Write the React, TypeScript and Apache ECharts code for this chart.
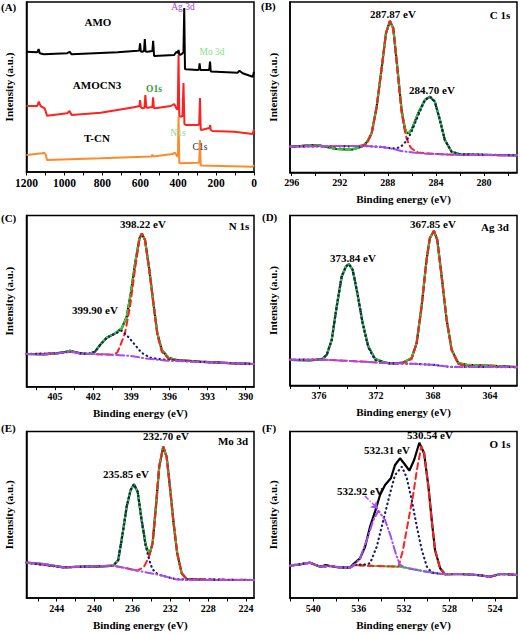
import React, { useEffect, useRef } from "react";
import * as echarts from "echarts";

type P = [number, number][];

// ---------- Panel A: survey spectra (binding energy eV, intensity a.u.) ----------
const surveyAMO: P = [
  [1200, 120.3], [1143, 119.7], [1136, 123], [1130, 118.7], [1109, 117.7], [985, 118.7], [973, 120.3], [962, 117.7],
  [720, 119.7], [615, 121.3], [605, 121.5], [601, 128.7], [597, 120.5], [590, 120.3], [580, 121], [576, 133], [572, 120.5],
  [562, 120.3], [536, 121], [532, 131.3], [527, 116], [421, 117], [409, 120.3], [402, 119], [398, 122], [394, 117],
  [380, 118], [372, 120], [368, 164], [364, 103], [358, 102.7], [298, 102], [290, 102.5], [287, 108.7], [283, 102],
  [241, 102], [236, 102.5], [232, 110.3], [228, 100.5], [86, 99.3], [77, 101.3], [60, 98.7], [7, 95.3], [0, 100.3],
];
const surveyAMOCN3: P = [
  [1200, 66], [1143, 66], [1135, 70.3], [1126, 66], [1104, 63.7], [1092, 56.3], [985, 58.7], [973, 61], [962, 57],
  [809, 59.3], [633, 64.7], [604, 66], [601, 72], [597, 65], [590, 63.7], [578, 64], [573, 77], [568, 64.5], [562, 64.3],
  [536, 65], [532, 74.7], [528, 64], [521, 63.7], [439, 66], [421, 68], [407, 62.7], [402, 63], [398, 117], [394, 56],
  [389, 55.3], [377, 56], [372, 89], [367, 48], [360, 47], [298, 47], [289, 47.5], [285, 74], [281, 42.5], [278, 42],
  [241, 43.7], [234, 44], [231, 47], [228, 42], [220, 41], [104, 40.3], [7, 38], [0, 42.7],
];
const surveyTCN: P = [
  [1200, 17], [1118, 18.7], [1106, 19.3], [1098, 17], [1092, 12], [809, 13.7], [540, 15.5], [536, 17.5], [532, 15.5],
  [430, 18], [416, 19.3], [404, 15.3], [401, 16], [398, 55], [394, 9], [389, 8.7], [298, 9.3], [289, 9.5], [285, 32],
  [281, 6.5], [278, 6.3], [7, 5.3], [0, 7],
];

// ---------- Panel B: C 1s ----------
const c1sRaw: P = [
  [296.14, 25.8], [295.3, 26.5], [294.5, 27.3], [293.6, 26.8], [292.9, 25], [292.3, 23.5], [291.5, 23], [290.9, 23.2],
  [290.4, 25], [290.05, 26.8], [289.7, 31], [289.35, 39.2], [288.93, 65.8], [288.5, 105.8], [288.16, 139.2],
  [287.83, 151.5], [287.55, 144.2], [287.22, 105.8], [286.86, 62.5], [286.6, 45], [286.44, 39.2], [286.2, 40],
  [286.03, 42.5], [285.48, 59.2], [284.92, 72.5], [284.5, 75.8], [284.09, 70.8], [283.67, 52.5], [283.26, 32.5],
  [282.7, 20.8], [282.0, 18.2], [279.24, 17.5], [277.26, 17.2],
];
const c1sBackground: P = [
  [296.14, 26], [293, 26.5], [290.5, 26.5], [289.5, 26.3], [288.5, 25.5], [287.5, 23.5], [286.9, 21.5], [285.5, 19.5],
  [284.8, 18.8], [283, 18], [282, 17.6], [279, 17.4], [277.26, 17.2],
];
const c1sPeak28787: P = [
  [296.14, 26], [290.5, 26.5], [289.8, 28], [289.35, 39], [288.93, 65.8], [288.5, 105.8], [288.16, 139.2], [287.83, 151.5],
  [287.55, 144.2], [287.22, 104], [286.86, 60], [286.6, 42], [286.44, 34], [286.2, 27], [286.03, 24], [285.5, 20],
  [284, 18.5], [282, 17.6], [277.26, 17.2],
];
const c1sPeak28470: P = [
  [296.14, 26], [289.5, 26.3], [288.5, 25.5], [287.6, 24], [287.2, 24.5], [286.86, 26.5], [286.5, 31], [286.1, 39],
  [285.48, 57], [284.92, 72.5], [284.5, 75.8], [284.09, 70.8], [283.67, 52.5], [283.26, 32.5], [282.7, 20.8],
  [282.0, 18.2], [277.26, 17.2],
];

// ---------- Panel C: N 1s ----------
const n1sRaw: P = [
  [407.24, 32.7], [405.9, 32.3], [404.9, 33.3], [404.3, 34.5], [403.82, 36], [403.03, 33.3], [402.38, 32.7], [401.85, 35],
  [401.46, 41.7], [400.93, 49], [400.28, 53.3], [399.75, 58.3], [399.36, 70], [399.04, 93.3], [398.7, 123.3],
  [398.36, 148.3], [398.17, 153.3], [397.92, 146.7], [397.58, 116.7], [397.26, 83.3], [396.95, 53.3], [396.6, 36.7],
  [396.08, 29], [395.42, 26.7], [393.6, 25], [390.96, 23.3], [389.35, 22.7],
];
const n1sBackground: P = [
  [407.24, 32.7], [405.9, 32.3], [404.9, 33.3], [403.82, 35], [403.03, 33.3], [402.38, 32.7], [401.5, 32.5], [400.4, 32],
  [399, 30.7], [397.9, 28.3], [396.2, 26], [393.6, 24.7], [389.35, 22.7],
];
const n1sPeak39822: P = [
  [407.24, 32.7], [404.9, 33.3], [403.82, 35], [402.38, 32.7], [400.4, 32], [400.1, 34.3], [399.9, 40], [399.5, 53.3],
  [399.1, 80], [398.7, 118], [398.36, 147], [398.17, 153.3], [397.92, 146.7], [397.58, 116.7], [397.26, 83.3],
  [396.95, 52], [396.6, 35], [396.08, 28], [395.42, 26.5], [393.6, 25], [389.35, 22.7],
];
const n1sPeak39990: P = [
  [407.24, 32.7], [404.9, 33.3], [403.82, 35], [402.38, 32.7], [401.85, 35], [401.46, 41.7], [400.93, 49], [400.28, 53],
  [399.75, 56], [399.2, 49.3], [398.7, 41.7], [398.2, 34], [397.5, 29], [396.6, 27.3], [395.42, 26.2], [393.6, 24.7],
  [389.35, 22.7],
];

// ---------- Panel D: Ag 3d ----------
const ag3dRaw: P = [
  [378.04, 25.7], [376.64, 25], [375.81, 26.3], [375.46, 30.7], [375.11, 45.7], [374.76, 79], [374.41, 109], [374.11, 119],
  [373.9, 121.4], [373.64, 115.7], [373.31, 92.4], [372.94, 62.4], [372.54, 39], [372.07, 26.7], [371.49, 23.4],
  [370.9, 21.7], [370.09, 23], [369.5, 27.4], [369.15, 42.4], [368.8, 79], [368.45, 125.7], [368.22, 147.4],
  [367.93, 154.7], [367.7, 145.7], [367.39, 109], [367.04, 65.7], [366.69, 35.7], [366.23, 22.4], [365.64, 20.7],
  [363.77, 19.7], [362.1, 18.4],
];
const ag3dBackground: P = [
  [378.04, 25.7], [375.5, 25.7], [373.1, 24], [371.2, 22.4], [369.4, 21.7], [368, 20.7], [366.8, 18.6], [362.1, 18.4],
];
const ag3dPeak36785: P = [
  [378.04, 25.7], [375.5, 25.7], [373.1, 24], [371.2, 22.4], [370.09, 22.5], [369.5, 26.5], [369.15, 42], [368.8, 79],
  [368.45, 125.7], [368.22, 147.4], [367.93, 154.7], [367.7, 145.7], [367.39, 109], [367.04, 65.7], [366.69, 35.7],
  [366.23, 21.5], [365.64, 19.5], [362.1, 18.4],
];
const ag3dPeak37384: P = [
  [378.04, 25.7], [375.81, 26], [375.46, 30.7], [375.11, 45.7], [374.76, 79], [374.41, 109], [374.11, 119], [373.9, 121.4],
  [373.64, 115.7], [373.31, 92.4], [372.94, 62.4], [372.54, 38], [372.07, 25.5], [371.49, 22.6], [370.9, 22.2],
  [369.4, 21.7], [368, 20.7], [366.8, 18.6], [362.1, 18.4],
];

// ---------- Panel E: Mo 3d ----------
const mo3dRaw: P = [
  [247.19, 35.3], [245.4, 34], [243.3, 30.7], [241.2, 31.3], [239.43, 31.3], [238.02, 32.3], [237.5, 38], [237.03, 64.7],
  [236.61, 91.3], [236.19, 108], [235.84, 113.7], [235.45, 106.3], [235.03, 78], [234.6, 53], [234.22, 43],
  [233.87, 54.7], [233.52, 91.3], [233.17, 131.3], [232.75, 151.3], [232.39, 141.3], [232.04, 111.3], [231.69, 78],
  [231.27, 44.7], [230.8, 24.7], [230.27, 19], [228.16, 18], [223.16, 18],
];
const mo3dBackground: P = [
  [247.19, 35.3], [245.4, 34], [243.3, 30.7], [241.2, 31.3], [238.02, 32.3], [236.6, 29.7], [234.9, 26.3], [233.1, 23],
  [231.4, 18.7], [230.3, 18], [223.16, 18],
];
const mo3dPeak23270: P = [
  [247.19, 35.3], [243.3, 30.7], [238.02, 32.3], [236.6, 29.7], [235.5, 27.3], [234.8, 31], [234.3, 40], [233.87, 54.7],
  [233.52, 91.3], [233.17, 131.3], [232.75, 151.3], [232.39, 141.3], [232.04, 111.3], [231.69, 78], [231.27, 44.7],
  [230.8, 24.7], [230.27, 19], [223.16, 18],
];
const mo3dPeak23585: P = [
  [247.19, 35.3], [243.3, 30.7], [238.02, 32.3], [237.5, 38], [237.03, 64.7], [236.61, 91.3], [236.19, 108],
  [235.84, 113.7], [235.45, 106.3], [235.03, 78], [234.6, 52], [234.22, 38], [233.9, 29], [233.5, 25], [233.1, 23],
  [231.4, 18.7], [223.16, 18],
];

// ---------- Panel F: O 1s ----------
const o1sRaw: P = [
  [542.05, 32.3], [541.2, 33.5], [540.28, 35.3], [539.8, 33], [539.4, 31.3], [538.9, 33], [538.52, 32], [538.1, 31.2],
  [537.64, 30.7], [536.76, 30.3], [536.47, 34], [535.88, 39.7], [535.44, 51.3], [535.0, 71.3], [534.56, 86.3],
  [534.12, 103], [533.68, 113], [533.17, 119.7], [532.8, 133], [532.36, 139.7], [531.9, 133], [531.54, 127.3],
  [531.12, 138], [530.66, 155.3], [530.24, 144.7], [529.86, 111.3], [529.57, 78], [529.28, 48], [528.83, 29.7],
  [528.4, 23.7], [527.07, 24], [525.6, 23], [524.43, 21.3], [523.55, 24], [522.96, 24], [522.06, 23],
];
const o1sBackground: P = [
  [542.05, 32.3], [540.28, 35.3], [539.4, 31.3], [538.52, 32], [537.64, 30.7], [536.76, 30.3], [536.47, 33], [534.5, 32],
  [532.4, 31.3], [530, 26.3], [528.7, 24], [527.07, 24], [525.6, 23], [524.43, 21.3], [523.55, 24], [522.06, 23],
];
const o1sPeak53054: P = [
  [542.05, 32.3], [540.28, 35.3], [539.4, 31.3], [538.52, 32], [537.64, 30.7], [536.76, 30.3], [536.47, 33], [534.5, 32],
  [532.5, 31.3], [532.1, 48], [531.62, 78], [531.23, 101.3], [530.88, 128], [530.6, 144.7], [530.5, 152],
  [530.24, 144.7], [529.86, 111.3], [529.57, 78], [529.28, 48], [528.83, 29.7], [528.4, 23.7], [527.07, 24], [525.6, 23],
  [524.43, 21.3], [523.55, 24], [522.06, 23],
];
const o1sPeak53231: P = [
  [542.05, 32.3], [540.28, 35.3], [539.4, 31.3], [538.52, 32], [537.64, 30.7], [536.76, 30.3], [536.47, 33], [535.5, 33.5],
  [535.0, 34.7], [534.41, 51.3], [533.83, 78], [533.24, 104.7], [532.8, 123], [532.2, 131.3], [531.77, 120.3],
  [531.33, 98], [530.88, 71.3], [530.44, 48], [530.0, 31.3], [529.57, 25.3], [528.7, 24], [527.07, 24], [525.6, 23],
  [524.43, 21.3], [523.55, 24], [522.06, 23],
];
const o1sPeak53292: P = [
  [542.05, 32.3], [540.28, 35.3], [539.4, 31.3], [538.52, 32], [537.64, 30.7], [536.76, 30.3], [536.47, 32], [535.88, 39.7],
  [535.29, 58], [534.7, 78], [534.27, 87.3], [533.68, 78], [533.17, 61.3], [532.7, 43], [532.36, 33], [531.77, 30],
  [530, 26.3], [528.7, 24], [527.07, 24], [525.6, 23], [524.43, 21.3], [523.55, 24], [522.06, 23],
];
const o1sArrow: P = [[535.45, 102], [534.3, 89]];

// ---------- axis ranges / ticks ----------
const xRanges: [number, number][] = [[0, 1200], [277.26, 296.14], [389.35, 407.24], [362.1, 378.04], [223.16, 247.19], [522.06, 542.05]];
const tickSteps = [100, 2, 1.5, 2, 2, 2];
const labelSteps = [200, 4, 3, 4, 4, 4];
const yMax = [170, 170.5, 171.2, 170, 166.5, 166.5];

const FONT = '"Liberation Serif", "Times New Roman", serif';
const BLACK = "#000000";
const GREEN = "#2fd12f";
const RED = "#ff2020";
const NAVY = "#1c1c6b";
const PURPLE = "#a64cf0";
const ORANGE = "#ff8a2a";

const grids = [
  { left: 26.5, top: 2, width: 227.5, height: 170 },
  { left: 290, top: 2, width: 227, height: 170.5 },
  { left: 26.5, top: 215.5, width: 227.5, height: 171.2 },
  { left: 290, top: 215.5, width: 227, height: 170 },
  { left: 26.5, top: 431.5, width: 227.5, height: 166.5 },
  { left: 290, top: 431.5, width: 227, height: 166.5 },
];

const labelFmt = (step: number) => (v: number) => {
  const r = v / step;
  return Math.abs(r - Math.round(r)) < 1e-6 ? String(Math.round(v)) : "";
};

type Txt = [string, number, number, string?, string?, string?];
const texts: Txt[] = [
  ["(A)", 1, 7, "left"], ["AMO", 98, 22], ["AMOCN3", 97, 85], ["T-CN", 97, 138],
  ["Ag 3d", 183, 7, "center", "#a040e0", "normal 9.5px"], ["Mo 3d", 212, 52, "center", "#7fe27f", "normal 9.5px"],
  ["O1s", 154, 89, "center", "#2e9e2e", "bold 9.5px"], ["N1s", 178, 133, "center", "#7fe27f", "normal 9.5px"],
  ["C1s", 200, 147, "center", "#1e1e50", "normal 9.5px"],
  ["(B)", 261, 6, "left"], ["287.87 eV", 393, 14], ["284.70 eV", 432, 90], ["C 1s", 500, 15],
  ["(C)", 1, 218, "left"], ["398.22 eV", 143, 224], ["399.90 eV", 95, 310], ["N 1s", 239, 226],
  ["(D)", 262, 217, "left"], ["367.85 eV", 433, 224], ["373.84 eV", 353, 258], ["Ag 3d", 495, 227],
  ["(E)", 1, 428, "left"], ["232.70 eV", 166, 436], ["235.85 eV", 126, 474], ["Mo 3d", 233, 441],
  ["(F)", 262, 428, "left"], ["530.54 eV", 430, 435], ["532.31 eV", 387, 450], ["532.92 eV", 360, 491], ["O 1s", 500, 444],
];

function line(idx: number, data: P, color: string, width: number, type: any, z: number, extra: any = {}) {
  return {
    type: "line",
    xAxisIndex: idx,
    yAxisIndex: idx,
    data,
    symbol: "none",
    showSymbol: false,
    silent: true,
    z,
    lineStyle: { color, width, type, cap: Array.isArray(type) ? "round" : "butt" },
    ...extra,
  };
}

const DASH = [5, 3];
const RDASH = [6, 4];
const DOT = [0.5, 4];
const DASHDOT = [8, 3, 1, 3];

export default function App() {
  const ref = useRef<HTMLDivElement>(null);
  useEffect(() => {
    document.body.style.margin = "0";
    if (!ref.current) return;
    const chart = echarts.init(ref.current, undefined, { renderer: "svg" });

    const xAxis = grids.map((_, i) => ({
      type: "value",
      gridIndex: i,
      inverse: true,
      min: xRanges[i][0],
      max: xRanges[i][1],
      ...(i === 0 ? { interval: tickSteps[i] } : { minInterval: tickSteps[i], maxInterval: tickSteps[i] }),
      axisLine: { onZero: false, lineStyle: { color: BLACK, width: 1.5 } },
      axisTick: { show: true, length: 3.5, lineStyle: { color: BLACK, width: 1 } },
      splitLine: { show: false },
      axisLabel: {
        formatter: labelFmt(labelSteps[i]),
        color: BLACK, fontSize: i === 0 ? 11.5 : 10, fontWeight: "bold", fontFamily: FONT, margin: 5,
        showMinLabel: i === 0, showMaxLabel: i === 0,
      },
      name: i === 0 ? "" : "Binding energy (eV)",
      nameLocation: "middle",
      nameGap: 21,
      nameTextStyle: { color: BLACK, fontSize: 11, fontWeight: "bold", fontFamily: FONT },
    }));

    const yAxis = grids.map((_, i) => ({
      type: "value",
      gridIndex: i,
      min: 0,
      max: yMax[i],
      axisLine: { show: true, onZero: false, lineStyle: { color: BLACK, width: 1.5 } },
      axisTick: { show: false },
      axisLabel: { show: false },
      splitLine: { show: false },
      name: "Intensity (a.u.)",
      nameLocation: "middle",
      nameGap: 12,
      nameTextStyle: { color: BLACK, fontSize: 11, fontWeight: "bold", fontFamily: FONT },
    }));

    const series: any[] = [
      line(0, surveyAMO, BLACK, 2, "solid", 3),
      line(0, surveyAMOCN3, RED, 2, "solid", 3),
      line(0, surveyTCN, ORANGE, 2, "solid", 3),

      line(1, c1sRaw, BLACK, 2.2, "solid", 2),
      line(1, c1sRaw, GREEN, 2.2, DASH, 3),
      line(1, c1sPeak28787, RED, 2, RDASH, 4),
      line(1, c1sPeak28470, NAVY, 2.2, DOT, 5),
      line(1, c1sBackground, PURPLE, 2, DASHDOT, 6),

      line(2, n1sRaw, BLACK, 2.2, "solid", 2),
      line(2, n1sRaw, GREEN, 2.2, DASH, 3),
      line(2, n1sPeak39822, RED, 2, RDASH, 4),
      line(2, n1sPeak39990, NAVY, 2.2, DOT, 5),
      line(2, n1sBackground, PURPLE, 2, DASHDOT, 6),

      line(3, ag3dRaw, BLACK, 2.2, "solid", 2),
      line(3, ag3dRaw, GREEN, 2.2, DASH, 3),
      line(3, ag3dPeak36785, RED, 2, RDASH, 4),
      line(3, ag3dPeak37384, NAVY, 2.2, DOT, 5),
      line(3, ag3dBackground, PURPLE, 2, DASHDOT, 6),

      line(4, mo3dRaw, BLACK, 2.2, "solid", 2),
      line(4, mo3dRaw, GREEN, 2.2, DASH, 3),
      line(4, mo3dPeak23270, RED, 2, RDASH, 4),
      line(4, mo3dPeak23585, NAVY, 2.2, DOT, 5),
      line(4, mo3dBackground, PURPLE, 2, DASHDOT, 6),

      line(5, o1sRaw, BLACK, 2.2, "solid", 2),
      line(5, o1sBackground, GREEN, 2.2, DASH, 3),
      line(5, o1sPeak53054, RED, 2, RDASH, 4),
      line(5, o1sPeak53231, NAVY, 2.2, DOT, 5),
      line(5, o1sPeak53292, PURPLE, 2, DASHDOT, 6, {
        markLine: {
          silent: true,
          symbol: ["none", "arrow"],
          symbolSize: 7,
          label: { show: false },
          lineStyle: { color: PURPLE, width: 1.5, type: [5, 2, 1, 2] },
          data: [[{ coord: o1sArrow[0] }, { coord: o1sArrow[1] }]],
        },
      }),
    ];

    const graphic = texts.map(([t, x, y, align, color, font]) => ({
      type: "text",
      silent: true,
      z: 100,
      style: {
        text: t,
        x,
        y,
        fill: color || BLACK,
        font: `${font || "bold 11px"} ${FONT}`,
        align: align || "center",
        verticalAlign: "middle",
        textAlign: align || "center",
        textVerticalAlign: "middle",
      },
    }));

    chart.setOption({
      animation: false,
      backgroundColor: "#ffffff",
      grid: grids.map((g) => ({ ...g, show: true, borderColor: BLACK, borderWidth: 1.5, backgroundColor: "transparent", containLabel: false })),
      xAxis,
      yAxis,
      series,
      graphic,
    });
    return () => chart.dispose();
  }, []);
  return <div ref={ref} style={{ width: 520, height: 634, background: "#fff" }} />;
}
